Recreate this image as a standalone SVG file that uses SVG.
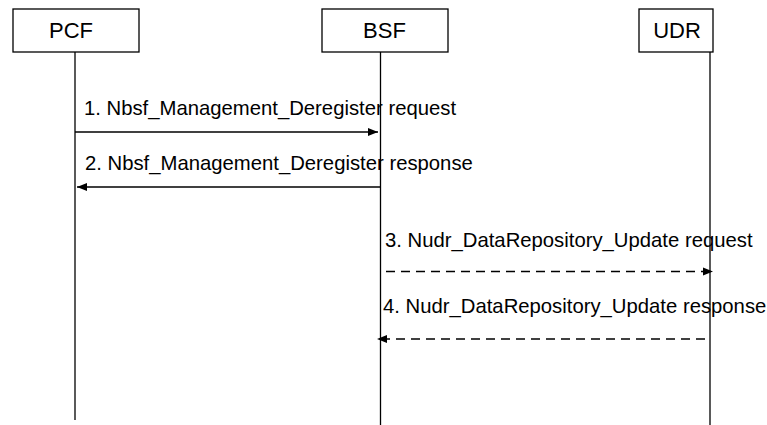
<svg xmlns="http://www.w3.org/2000/svg" width="767" height="425" viewBox="0 0 767 425">
<defs>
<style>
.box{fill:#fff;stroke:#000;stroke-width:1.3}
.life{stroke:#000;stroke-width:1.3;fill:none}
.nt{font-family:"Liberation Sans",Arial,sans-serif;font-size:22px;fill:#000;text-anchor:middle}
.lbl{font-family:"Liberation Sans",Arial,sans-serif;font-size:20.3px;fill:#000}
.msg{stroke:#000;stroke-width:1.5;fill:none}
.dash{stroke-dasharray:9 6}
</style>
<marker id="ah" viewBox="0 0 10 10" refX="10" refY="5" markerWidth="10" markerHeight="10" markerUnits="userSpaceOnUse" orient="auto">
<path d="M0,1 L10,5 L0,9 z" fill="#000"/>
</marker>
</defs>
<g id="PCF">
<line class="life" x1="75" y1="52" x2="75" y2="420"/>
<rect class="box" x="13" y="9" width="126" height="43"/>
<text class="nt" x="71" y="38">PCF</text>
</g>
<g id="BSF">
<line class="life" x1="380.5" y1="52" x2="380.5" y2="425"/>
<rect class="box" x="322" y="9" width="126" height="43"/>
<text class="nt" x="384.5" y="38">BSF</text>
</g>
<g id="UDR">
<line class="life" x1="710" y1="52" x2="710" y2="425"/>
<rect class="box" x="639" y="9" width="74" height="43"/>
<text class="nt" x="677" y="38">UDR</text>
</g>
<g id="connectors">
<line class="msg" x1="75" y1="132" x2="378" y2="132" marker-end="url(#ah)"/>
<line class="msg" x1="380" y1="187" x2="77" y2="187" marker-end="url(#ah)"/>
<line class="msg dash" x1="386" y1="271.5" x2="713" y2="271.5" marker-end="url(#ah)"/>
<line class="msg dash" x1="705" y1="339" x2="377" y2="339" marker-end="url(#ah)"/>
</g>
<g id="labels">
<text class="lbl" x="84" y="115">1. Nbsf_Management_Deregister request</text>
<text class="lbl" x="85" y="170">2. Nbsf_Management_Deregister response</text>
<text class="lbl" x="385" y="247">3. Nudr_DataRepository_Update request</text>
<text class="lbl" x="383" y="313">4. Nudr_DataRepository_Update response</text>
</g>
</svg>
